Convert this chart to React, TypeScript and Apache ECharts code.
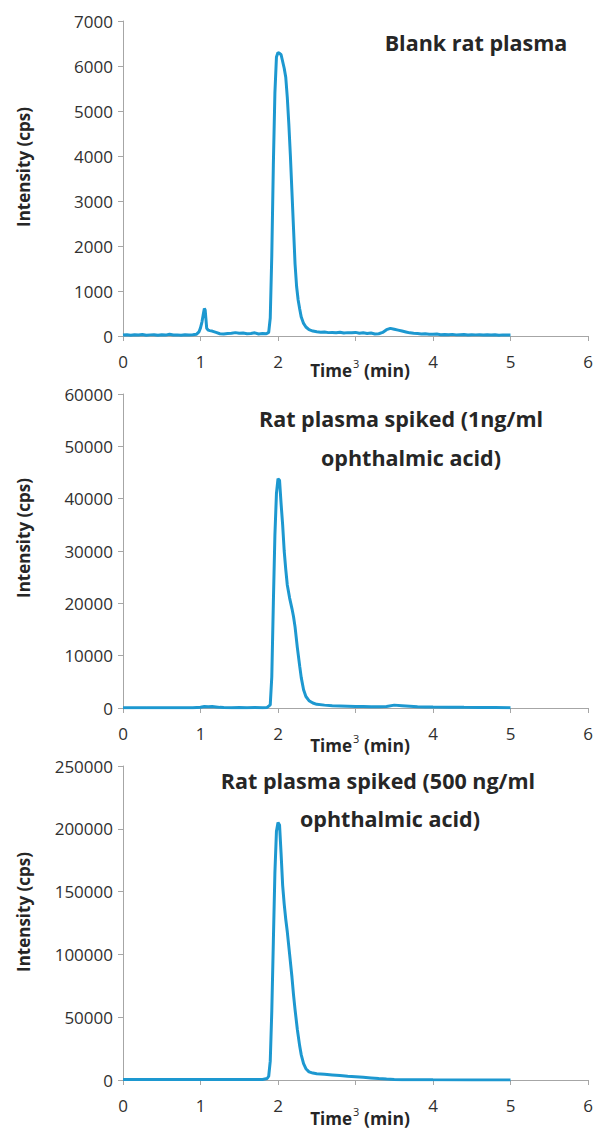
import React, { useEffect, useRef } from "react";
import * as echarts from "echarts";

// ---------- Data ----------
const blankTimes = [0,0.05,0.1,0.15,0.2,0.25,0.3,0.35,0.4,0.45,0.5,0.55,0.6,0.65,0.7,0.75,0.8,0.85,0.9,0.95,0.98,1.0,1.02,1.04,1.05,1.06,1.07,1.08,1.1,1.12,1.15,1.2,1.25,1.3,1.35,1.4,1.45,1.5,1.55,1.6,1.65,1.7,1.75,1.8,1.85,1.88,1.9,1.92,1.94,1.96,1.98,2.0,2.02,2.04,2.06,2.08,2.1,2.12,2.14,2.16,2.18,2.2,2.22,2.24,2.26,2.28,2.3,2.33,2.36,2.4,2.45,2.5,2.55,2.6,2.65,2.7,2.75,2.8,2.85,2.9,2.95,3.0,3.05,3.1,3.15,3.2,3.25,3.3,3.35,3.4,3.45,3.5,3.55,3.6,3.65,3.7,3.75,3.8,3.85,3.9,3.95,4.0,4.05,4.1,4.15,4.2,4.25,4.3,4.35,4.4,4.45,4.5,4.55,4.6,4.65,4.7,4.75,4.8,4.85,4.9,4.95,5.0];
const blankValues = [20,28,15,30,22,35,18,25,30,16,27,20,38,22,25,18,30,24,28,40,90,180,320,520,610,580,380,170,130,120,110,80,50,45,55,60,75,60,65,50,55,70,45,55,50,80,400,1800,3800,5400,6200,6300,6280,6250,6100,5950,5750,5300,4700,4000,3200,2400,1600,1100,800,600,420,280,200,140,110,95,85,90,75,80,70,85,65,75,70,80,60,70,55,65,45,50,80,140,170,150,130,110,90,70,60,55,45,50,40,38,42,30,35,28,36,25,30,33,22,30,25,28,20,26,22,30,18,25,20,22];

const lowTimes = [0,0.1,0.2,0.3,0.4,0.5,0.6,0.7,0.8,0.9,1.0,1.05,1.1,1.15,1.2,1.25,1.3,1.4,1.5,1.6,1.7,1.8,1.86,1.9,1.92,1.94,1.96,1.98,2.0,2.02,2.04,2.06,2.08,2.1,2.12,2.15,2.18,2.2,2.22,2.25,2.28,2.3,2.33,2.36,2.4,2.45,2.5,2.6,2.7,2.8,2.9,3.0,3.1,3.2,3.3,3.4,3.5,3.6,3.7,3.8,3.9,4.0,4.2,4.4,4.6,4.8,5.0];
const lowValues = [50,40,60,50,40,55,45,50,40,60,150,300,250,280,200,120,80,70,90,60,80,70,100,600,6000,20000,33000,41000,43800,43500,39000,35000,30000,26500,23500,21000,19000,17500,15500,11500,8000,5800,3500,2200,1400,950,700,550,450,400,350,300,280,250,220,300,550,450,350,250,200,180,150,120,100,80,60];

const highTimes = [0,0.2,0.4,0.6,0.8,1.0,1.2,1.4,1.6,1.8,1.86,1.88,1.9,1.92,1.94,1.96,1.98,2.0,2.02,2.04,2.06,2.08,2.1,2.12,2.15,2.18,2.2,2.22,2.25,2.28,2.3,2.33,2.36,2.4,2.45,2.5,2.6,2.7,2.8,2.9,3.0,3.1,3.2,3.3,3.4,3.5,3.6,3.8,4.0,4.5,5.0];
const highValues = [300,300,300,300,300,400,350,300,300,350,1200,3000,15000,55000,110000,165000,198000,205000,203000,180000,155000,140000,128000,118000,100000,82000,68000,56000,40000,27000,20000,13000,9000,6500,5500,5000,4500,4000,3500,3000,2600,2100,1600,1100,700,400,250,150,100,50,30];

const xTicks = [0, 1, 2, 3, 4, 5, 6];
const panelTitles = [
  ["Blank rat plasma"],
  ["Rat plasma spiked (1ng/ml", "ophthalmic acid)"],
  ["Rat plasma spiked (500 ng/ml", "ophthalmic acid)"],
];
const yMax = [7000, 60000, 250000];
const yInterval = [1000, 10000, 50000];

// ---------- Layout ----------
const LINE_COLOR = "#1d98d0";
const AXIS_COLOR = "#a6a6a6";
const TEXT_COLOR = "#262626";
const FONT = "'Open Sans', 'Noto Sans', sans-serif";
const grids = [
  { top: 21, height: 315 },
  { top: 394, height: 314 },
  { top: 766, height: 314 },
];
const gridLeft = 123;
const gridWidth = 465;

const titlePos = [
  [{ x: 476, y: 42 }],
  [{ x: 401, y: 418 }, { x: 411, y: 457 }],
  [{ x: 378, y: 780 }, { x: 390, y: 818 }],
];
const yNameY = [167, 538, 912];
const xNameY = [370, 745, 1118];

export default function App() {
  const ref = useRef<HTMLDivElement>(null);
  useEffect(() => {
    if (!ref.current) return;
    const chart = echarts.init(ref.current, null, { renderer: "svg" });
    const datasets = [
      blankTimes.map((t, i) => [t, blankValues[i]]),
      lowTimes.map((t, i) => [t, lowValues[i]]),
      highTimes.map((t, i) => [t, highValues[i]]),
    ];
    const graphic: any[] = [];
    for (let k = 0; k < 3; k++) {
      panelTitles[k].forEach((line, j) => {
        graphic.push({
          type: "text",
          x: titlePos[k][j].x,
          y: titlePos[k][j].y,
          style: {
            text: line,
            font: `bold 21.5px ${FONT}`,
            fill: TEXT_COLOR,
            textAlign: "center",
            textVerticalAlign: "middle",
          },
        });
      });
      graphic.push({
        type: "text",
        x: 23,
        y: yNameY[k],
        rotation: Math.PI / 2,
        style: {
          text: "Intensity (cps)",
          font: `bold 17px ${FONT}`,
          fill: TEXT_COLOR,
          textAlign: "center",
          textVerticalAlign: "middle",
        },
      });
      graphic.push({
        type: "text",
        x: 352,
        y: xNameY[k],
        style: {
          text: "Time",
          font: `bold 17px ${FONT}`,
          fill: TEXT_COLOR,
          textAlign: "right",
          textVerticalAlign: "middle",
        },
      });
      graphic.push({
        type: "text",
        x: 353,
        y: xNameY[k] - 7,
        style: {
          text: "3",
          font: `11px ${FONT}`,
          fill: TEXT_COLOR,
          textAlign: "left",
          textVerticalAlign: "middle",
        },
      });
      graphic.push({
        type: "text",
        x: 364,
        y: xNameY[k],
        style: {
          text: "(min)",
          font: `bold 17.5px ${FONT}`,
          fill: TEXT_COLOR,
          textAlign: "left",
          textVerticalAlign: "middle",
        },
      });
    }

    const option: any = {
      animation: false,
      backgroundColor: "#ffffff",
      grid: grids.map((g) => ({
        left: gridLeft,
        top: g.top,
        width: gridWidth,
        height: g.height,
        containLabel: false,
      })),
      xAxis: grids.map((_, k) => ({
        type: "value",
        gridIndex: k,
        min: xTicks[0],
        max: xTicks[xTicks.length - 1],
        interval: 1,
        axisLine: { show: true, onZero: false, lineStyle: { color: AXIS_COLOR, width: 1 } },
        axisTick: { show: true, length: 5, lineStyle: { color: AXIS_COLOR } },
        splitLine: { show: false },
        axisLabel: {
          color: "#303030",
          fontFamily: FONT,
          fontSize: 17,
          margin: 17,
          formatter: (v: number) => (v === 3 ? "" : String(v)),
        },
      })),
      yAxis: grids.map((_, k) => ({
        type: "value",
        gridIndex: k,
        min: 0,
        max: yMax[k],
        interval: yInterval[k],
        axisLine: { show: true, lineStyle: { color: AXIS_COLOR, width: 1 } },
        axisTick: { show: true, length: 5, lineStyle: { color: AXIS_COLOR } },
        splitLine: { show: false },
        axisLabel: {
          color: "#303030",
          fontFamily: FONT,
          fontSize: 17,
          margin: 10,
          formatter: (v: number) => String(v),
        },
      })),
      series: datasets.map((d, k) => ({
        type: "line",
        xAxisIndex: k,
        yAxisIndex: k,
        data: d,
        showSymbol: false,
        symbol: "none",
        lineStyle: { color: LINE_COLOR, width: 3 },
        itemStyle: { color: LINE_COLOR },
      })),
      graphic,
    };
    chart.setOption(option);
    return () => chart.dispose();
  }, []);
  return (
    <div
      ref={ref}
      style={{ position: "absolute", left: 0, top: 0, width: 597, height: 1131 }}
    />
  );
}
